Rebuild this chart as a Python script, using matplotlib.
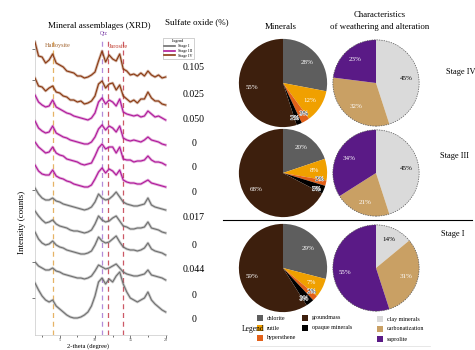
import numpy as np
import matplotlib
matplotlib.use("Agg")
import matplotlib.pyplot as plt
from matplotlib.patches import Rectangle, Circle
import matplotlib.patheffects as pe

plt.rcParams['font.family'] = ['Liberation Serif', 'DejaVu Serif']

W, H = 475, 350

# ---------------- XRD data ----------------
two_theta = np.arange(1.5, 20.01, 0.5)
trace_stage = ['Stage IV'] * 2 + ['Stage III'] * 4 + ['Stage I'] * 5
xrd_iv_1 = [36,22,21,15,18,24,15,13,11,7,6,5,2,2,0,1,3,6,17,27,16,23,19,17,24,9,7,3,4,2,5,2,7,3,1,3,0,1]
xrd_iv_2 = [27,19,18,14,17,19,13,12,9,8,5,5,3,4,1,2,4,9,21,24,17,21,22,15,20,9,6,3,5,2,6,6,13,7,4,4,1,0]
xrd_iii_1 = [25,18,15,13,14,20,13,11,9,7,6,4,3,2,1,0,2,7,18,22,16,20,18,14,21,8,6,5,4,5,3,4,9,6,3,4,2,0]
xrd_iii_2 = [24,17,14,12,13,19,12,10,8,7,5,4,3,2,1,1,3,8,16,20,15,19,17,13,19,7,5,4,5,4,3,5,8,5,4,3,1,0]
xrd_iii_3 = [23,18,15,12,13,18,12,10,9,6,5,4,3,1,0,1,2,9,17,21,16,18,18,12,18,6,5,5,3,4,4,5,9,5,3,3,2,0]
xrd_iii_4 = [22,16,13,12,12,17,11,9,8,6,5,3,2,1,0,0,2,8,15,19,14,18,16,12,17,7,5,4,4,3,3,5,7,4,3,2,1,0]
xrd_i_1 = [22,16,12,10,10,12,9,8,6,5,4,3,2,1,0,1,3,8,16,12,10,11,14,18,13,8,6,5,4,4,5,6,12,5,3,2,1,0]
xrd_i_2 = [22,17,13,10,11,13,9,7,6,5,3,2,2,1,0,1,3,9,17,13,11,12,15,17,12,7,6,4,4,5,5,6,11,5,4,3,1,0]
xrd_i_3 = [23,16,12,10,11,14,10,8,7,5,4,3,2,1,1,2,4,10,18,14,12,13,16,19,13,8,6,5,5,4,5,7,12,6,4,3,2,0]
xrd_i_4 = [18,14,12,10,10,12,9,8,6,5,4,3,2,2,1,2,4,9,15,13,11,12,14,16,12,8,6,5,4,4,5,6,10,5,4,3,2,0]
xrd_i_5 = [29,22,16,12,10,12,6,3,0,-3,-5,-6,-6,-5,-3,0,6,16,30,34,28,33,30,36,40,28,20,14,12,10,12,14,20,12,8,5,2,0]
xrd_traces = [xrd_iv_1, xrd_iv_2, xrd_iii_1, xrd_iii_2, xrd_iii_3, xrd_iii_4,
              xrd_i_1, xrd_i_2, xrd_i_3, xrd_i_4, xrd_i_5]
sulfate_oxide = ['0.105', '0.025', '0.050', '0', '0', '0', '0.017', '0', '0.044', '0', '0']
peak_positions = [4.0, 11.0, 11.9, 14.0]
xrd_xticks = [5, 10, 15, 20]

# ---------------- pie data ----------------
stages = ['Stage IV', 'Stage III', 'Stage I']
mineral_names = ['chlorite', 'rutile', 'hypersthene', 'opaque minerals', 'groundmass']
minerals_iv = [28, 12, 3, 2, 55]
minerals_iii = [20, 8, 2, 3, 68]
minerals_i = [29, 7, 2, 3, 59]
weather_names = ['clay minerals', 'carbonatization', 'saprolite']
weather_iv = [45, 32, 23]
weather_iii = [45, 21, 34]
weather_i = [14, 31, 55]

# ---------------- styles ----------------
stage_color = {'Stage IV': '#8a3a12', 'Stage III': '#b0199a', 'Stage I': '#707070'}
mineral_colors = ['#5e5e5e', '#f0a000', '#e2611a', '#000000', '#3d1f0d']
weather_colors = ['#dadada', '#c9a064', '#5a1a86']
peak_colors = ['#e0a040', '#a070d0', '#c03040', '#c03040']

fig = plt.figure(figsize=(W / 100, H / 100), dpi=100)


def fx(x):
    return x / W


def fy(y):
    return 1 - y / H


def ftext(x, y, s, **kw):
    return fig.text(fx(x), fy(y), s, **kw)


# ---------------- XRD panel ----------------
ax = fig.add_axes([fx(35), fy(335), 132 / W, 295 / H])
offsets = [257, 230, 215, 190, 170, 148, 125, 102, 80, 55, 23]
for p, c in zip(peak_positions, peak_colors):
    ax.axvline(p, color=c, ls=(0, (4, 3)), lw=0.9, alpha=0.8, zorder=1)
for tr, st, off in zip(xrd_traces, trace_stage, offsets):
    y = np.array(tr) + off
    ax.plot(two_theta, y, color=stage_color[st], lw=2.0, alpha=0.35, zorder=2)
    ax.plot(two_theta, y, color=stage_color[st], lw=0.8, zorder=3)
ax.set_xlim(1.5, 20.2)
ax.set_ylim(0, 295)
ax.set_xticks(xrd_xticks)
ax.set_xticklabels([str(v) for v in xrd_xticks])
ax.set_xticks([2.5, 7.5, 12.5, 17.5], minor=True)
ax.set_yticks([335 - 49, 335 - 80, 335 - 190, 335 - 262, 335 - 298])
ax.set_yticklabels([])
ax.tick_params(axis='both', labelsize=3, length=2, width=0.5, pad=0.5, colors='#444')
ax.tick_params(axis='x', which='minor', length=1.5, width=0.4)
for s in ['top', 'right']:
    ax.spines[s].set_visible(False)
for s in ['left', 'bottom']:
    ax.spines[s].set_linewidth(0.4)
    ax.spines[s].set_color('#bbbbbb')
ax.patch.set_alpha(0)

ftext(99, 26, 'Mineral assemblages (XRD)', ha='center', va='center', fontsize=6.5)
ftext(197, 22, 'Sulfate oxide (%)', ha='center', va='center', fontsize=6.5)
ftext(22, 222, 'Intensity (counts)', ha='center', va='center', fontsize=6.5, rotation=90)
ftext(88, 346, '2-theta (degree)', ha='center', va='center', fontsize=4.8)
ftext(58, 46, 'Halloysite', ha='center', va='center', fontsize=4.5, color='#a0622d')
ftext(104, 33, 'Qtz', ha='center', va='center', fontsize=4, color='#7030a0')
ftext(118, 46, 'Jarosite', ha='center', va='center', fontsize=4.5, color='#c0392b')

sulf_y = [67, 95, 120, 143, 168, 193, 218, 245, 270, 295, 320]
for v, yy in zip(sulfate_oxide, sulf_y):
    ftext(194, yy, v, ha='center', va='center', fontsize=7)

# small XRD legend
handles = [plt.Line2D([], [], color=stage_color[s], lw=1.2) for s in ['Stage I', 'Stage III', 'Stage IV']]
leg = fig.legend(handles, ['Stage I', 'Stage III', 'Stage IV'], loc='upper left',
                 bbox_to_anchor=(fx(161), fy(36)), fontsize=3, title='Legend',
                 title_fontsize=3, frameon=True, handlelength=2.5, borderpad=0.3,
                 labelspacing=0.2, fancybox=False)
leg.get_frame().set_linewidth(0.4)
leg.get_frame().set_edgecolor('#999999')

# ---------------- pies ----------------
centers_y = [83, 173, 268]
minerals_all = [minerals_iv, minerals_iii, minerals_i]
weather_all = [weather_iv, weather_iii, weather_i]


def draw_pie(cx, cy, r, vals, colors, dashed=False):
    pax = fig.add_axes([fx(cx - r), fy(cy + r), 2 * r / W, 2 * r / H])
    pax.pie(vals, colors=colors, startangle=90, counterclock=False, radius=1,
            wedgeprops=dict(linewidth=0))
    total = float(sum(vals))
    cum = 0.0
    angs = []
    for v in vals:
        angs.append((cum + v / 2) / total * 360)
        cum += v
    small = [v < 5 for v in vals]
    for i in range(1, len(vals)):
        if small[i] and small[i - 1] and angs[i] - angs[i - 1] < 16:
            mid = (angs[i] + angs[i - 1]) / 2
            angs[i - 1] = mid - 8
            angs[i] = mid + 8
    for v, c, a, sm in zip(vals, colors, angs, small):
        rr = 0.84 if sm else 0.72
        th = np.deg2rad(90 - a)
        t = pax.text(rr * np.cos(th), rr * np.sin(th), f'{v}%', ha='center', va='center',
                     fontsize=4.6 if sm else 5, color='white')
        if c == '#dadada':
            t.set_color('black')
        if sm:
            t.set_color('black')
            t.set_path_effects([pe.withStroke(linewidth=0.6, foreground='white')])
    if dashed:
        pax.add_patch(Circle((0, 0), 1, fill=False, ls=(0, (2, 1.5)), lw=0.5, ec='#555555'))
    pax.set_xlim(-1.02, 1.02)
    pax.set_ylim(-1.02, 1.02)
    pax.set_aspect('equal')
    pax.axis('off')


for cy, mv, wv in zip(centers_y, minerals_all, weather_all):
    draw_pie(283, cy, 45, mv, mineral_colors)
    draw_pie(376, cy, 44, wv, weather_colors, dashed=True)

ftext(281, 27, 'Minerals', ha='center', va='center', fontsize=6.5)
ftext(380, 15, 'Characteristics', ha='center', va='center', fontsize=6.3)
ftext(380, 27, 'of weathering and alteration', ha='center', va='center', fontsize=6.3)

stage_label_pos = [(461, 72), (454, 156), (453, 234)]
for s, (x, y) in zip(stages, stage_label_pos):
    ftext(x, y, s, ha='center', va='center', fontsize=6)

# separator
fig.add_artist(plt.Line2D([fx(223), fx(472)], [fy(220), fy(220)], color='black', lw=0.8))

# ---------------- bottom legend ----------------
ftext(242, 329, 'Legend', ha='left', va='center', fontsize=5.5)
legend_items = [
    (257, 318, mineral_colors[0], mineral_names[0]),
    (257, 328, mineral_colors[1], mineral_names[1]),
    (257, 338, mineral_colors[2], mineral_names[2]),
    (302, 318, mineral_colors[4], mineral_names[4]),
    (302, 328, mineral_colors[3], mineral_names[3]),
    (377, 319, weather_colors[0], weather_names[0]),
    (377, 329, weather_colors[1], weather_names[1]),
    (377, 339, weather_colors[2], weather_names[2]),
]
for x, y, c, name in legend_items:
    fig.add_artist(Rectangle((fx(x), fy(y + 3)), 6 / W, 6 / H, transform=fig.transFigure,
                             facecolor=c, edgecolor='none'))
    ftext(x + 10, y, name, ha='left', va='center', fontsize=4.3)
fig.add_artist(plt.Line2D([fx(250), fx(430)], [fy(346), fy(346)], color='#dddddd', lw=0.5))

fig.savefig('out.png', dpi=100)
